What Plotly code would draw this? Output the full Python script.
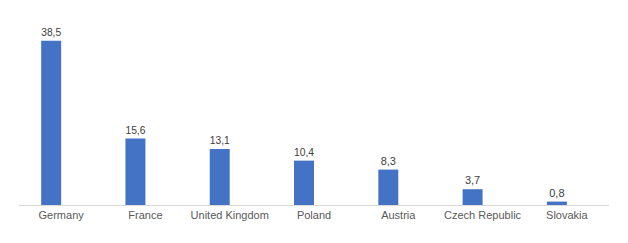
import plotly.graph_objects as go

countries = ["Germany", "France", "United Kingdom", "Poland", "Austria", "Czech Republic", "Slovakia"]
values = [38.5, 15.6, 13.1, 10.4, 8.3, 3.7, 0.8]
labels = [f"{v:.1f}".replace(".", ",") for v in values]

fig = go.Figure()
fig.add_trace(go.Bar(
    x=countries, y=values, text=labels, textposition="outside",
    width=0.237, offset=-0.237, cliponaxis=False,
    marker=dict(color="#4472C4", line=dict(width=0)),
    textfont=dict(family="Liberation Sans", size=11, color="#404040"),
))
fig.update_layout(
    width=628, height=243, margin=dict(l=19, r=19, t=13, b=38),
    paper_bgcolor="white", plot_bgcolor="white", showlegend=False,
    font=dict(family="Liberation Sans", size=11, color="#595959"),
    xaxis=dict(showline=True, linecolor="#D9D9D9", linewidth=1, ticks="",
               showgrid=False, tickfont=dict(size=11, color="#595959")),
    yaxis=dict(range=[0, 45], visible=False, showgrid=False, zeroline=False),
)
fig.write_html("out.html")
